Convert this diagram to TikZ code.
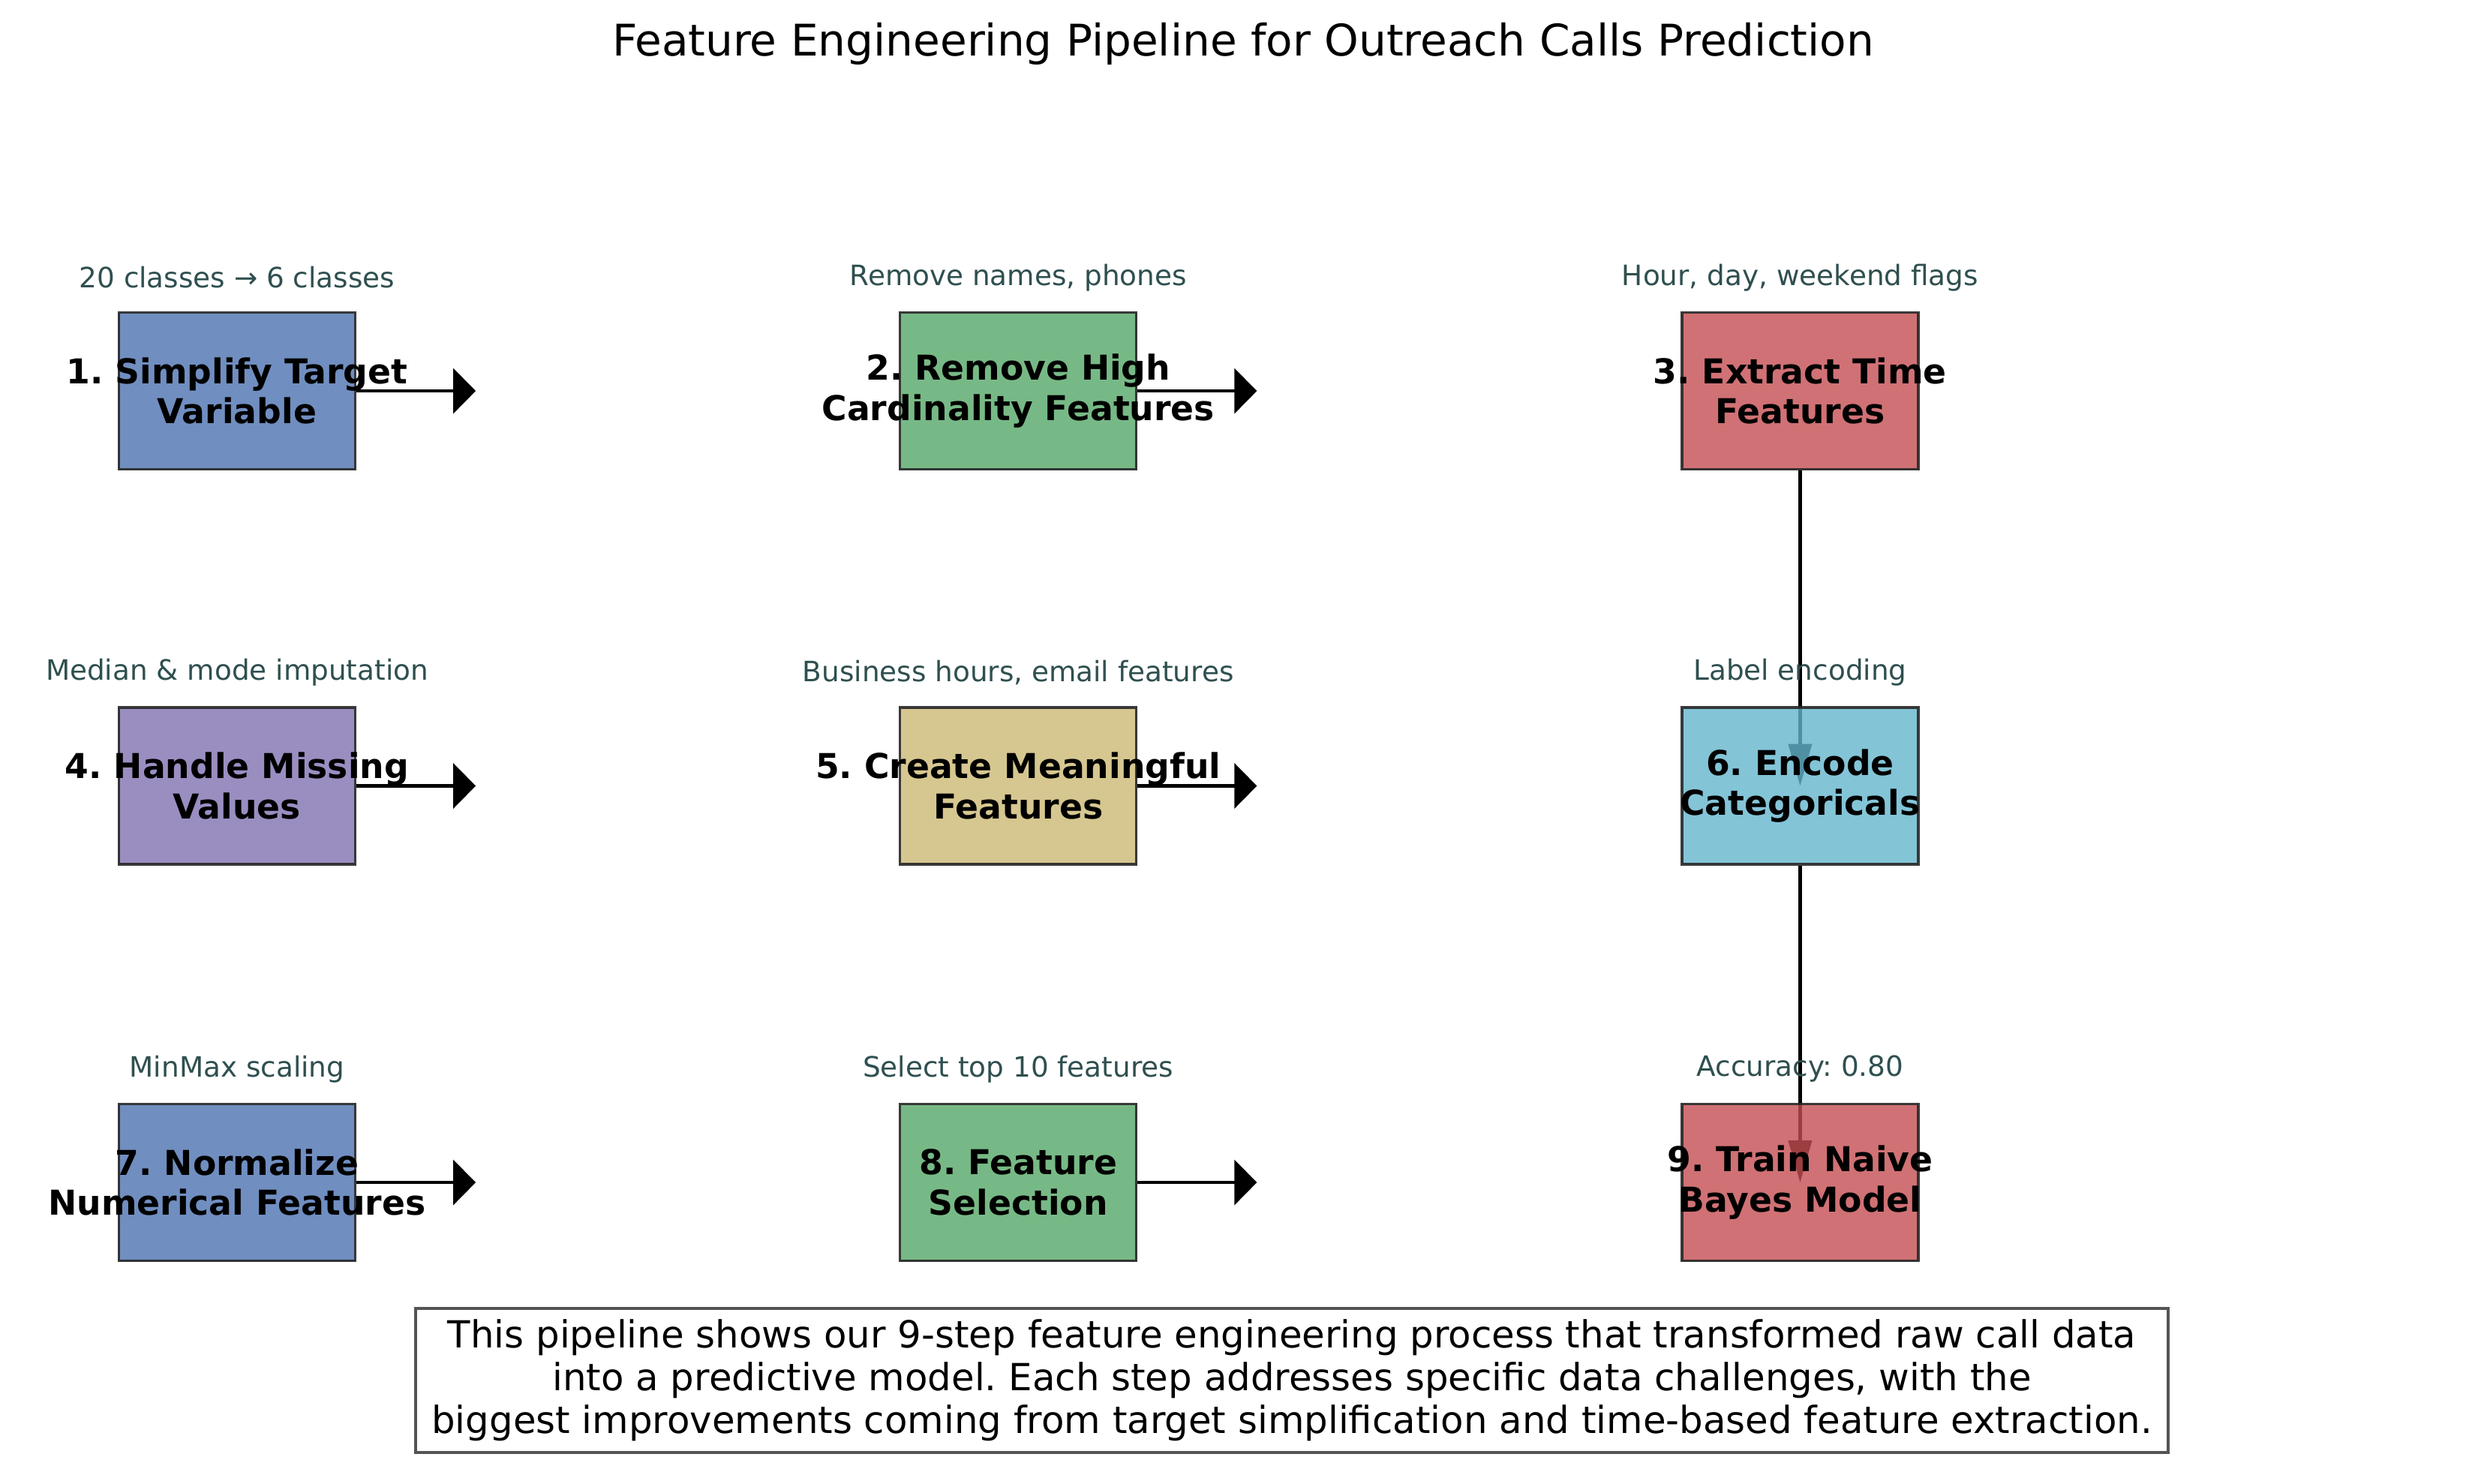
\documentclass[tikz,border=0pt]{standalone}
\usepackage{fontspec}
\setmainfont{DejaVu Sans}
\usepackage{xcolor}
\usetikzlibrary{arrows.meta,positioning,calc}
\pgfdeclarelayer{background}
\pgfsetlayers{background,main}
\frenchspacing

\definecolor{deepblue}{HTML}{4C72B0}
\definecolor{deepgreen}{HTML}{55A868}
\definecolor{deepred}{HTML}{C44E52}
\definecolor{deeppurple}{HTML}{8172B2}
\definecolor{deepyellow}{HTML}{CCB974}
\definecolor{deepcyan}{HTML}{64B5CD}
\definecolor{notegray}{HTML}{2F4F4F}

\begin{document}
\begin{tikzpicture}[>=Triangle,
  stepbox/.style={draw=black!85,line width=0.8pt,fill opacity=0.8,draw opacity=0.9,text opacity=1,
    minimum width=2.667cm,minimum height=1.77cm,inner sep=0pt},
  steptext/.style={font=\bfseries\fontsize{11}{12.9}\selectfont,align=center,text opacity=1,inner sep=0pt},
  note/.style={font=\fontsize{9}{11}\selectfont,text=notegray},
  flow/.style={line width=1pt,-{Triangle[length=0.254cm,width=0.508cm]}},
  drop/.style={line width=1pt,-{Triangle[length=0.474cm,width=0.262cm]}}]
\useasboundingbox (0,0) rectangle (28.067,16.739);

\node[font=\fontsize{14}{17}\selectfont] (title) at (14.03,16.24) {Feature Engineering Pipeline for Outreach Calls Prediction};

% row 1
\node[stepbox,fill=deepblue,label={[steptext]center:{1. Simplify Target\\Variable}}] (b1) at (2.675,12.327) {};
\node[stepbox,fill=deepgreen,label={[steptext]center:{2. Remove High\\Cardinality Features}}] (b2) at (11.491,12.327) {};
\node[stepbox,fill=deepred,label={[steptext]center:{3. Extract Time\\Features}}] (b3) at (20.315,12.327) {};
% row 2
\node[stepbox,fill=deeppurple,label={[steptext]center:{4. Handle Missing\\Values}}] (b4) at (2.675,7.870) {};
\node[stepbox,fill=deepyellow,label={[steptext]center:{5. Create Meaningful\\Features}}] (b5) at (11.491,7.870) {};
\node[stepbox,fill=deepcyan,label={[steptext]center:{6. Encode\\Categoricals}}] (b6) at (20.315,7.870) {};
% row 3
\node[stepbox,fill=deepblue,label={[steptext]center:{7. Normalize\\Numerical Features}}] (b7) at (2.675,3.395) {};
\node[stepbox,fill=deepgreen,label={[steptext]center:{8. Feature\\Selection}}] (b8) at (11.491,3.395) {};
\node[stepbox,fill=deepred,label={[steptext]center:{9. Train Naive\\Bayes Model}}] (b9) at (20.315,3.395) {};

% short notes above the boxes
\node[note] (n1) at (2.675,13.606) {20 classes → 6 classes};
\node[note] (n2) at (11.491,13.606) {Remove names, phones};
\node[note] (n3) at (20.315,13.606) {Hour, day, weekend flags};
\node[note] (n4) at (2.675,9.152) {Median \& mode imputation};
\node[note] (n5) at (11.491,9.152) {Business hours, email features};
\node[note] (n6) at (20.315,9.152) {Label encoding};
\node[note] (n7) at (2.675,4.674) {MinMax scaling};
\node[note] (n8) at (11.491,4.674) {Select top 10 features};
\node[note] (n9) at (20.315,4.674) {Accuracy: 0.80};

% arrows
\foreach \i in {1,2,4,5,7,8} {
  \coordinate[right=1.346cm of b\i] (e\i);
  \draw[flow] (b\i.east) -- (e\i);
}
\begin{pgfonlayer}{background}
\draw[drop] (b3.south) -- (b6.center);
\draw[drop] (b6.south) -- (b9.center);
\end{pgfonlayer}

\node[draw=black!67,line width=1pt,fill=white,minimum width=19.78cm,minimum height=1.626cm,align=center,
  font=\fontsize{12}{13.7}\selectfont] (summary) at (14.58,1.16)
  {This pipeline shows our 9-step feature engineering process that transformed raw call data\\
   into a predictive model. Each step addresses specific data challenges, with the\\
   biggest improvements coming from target simplification and time-based feature extraction.};
\end{tikzpicture}
\end{document}
